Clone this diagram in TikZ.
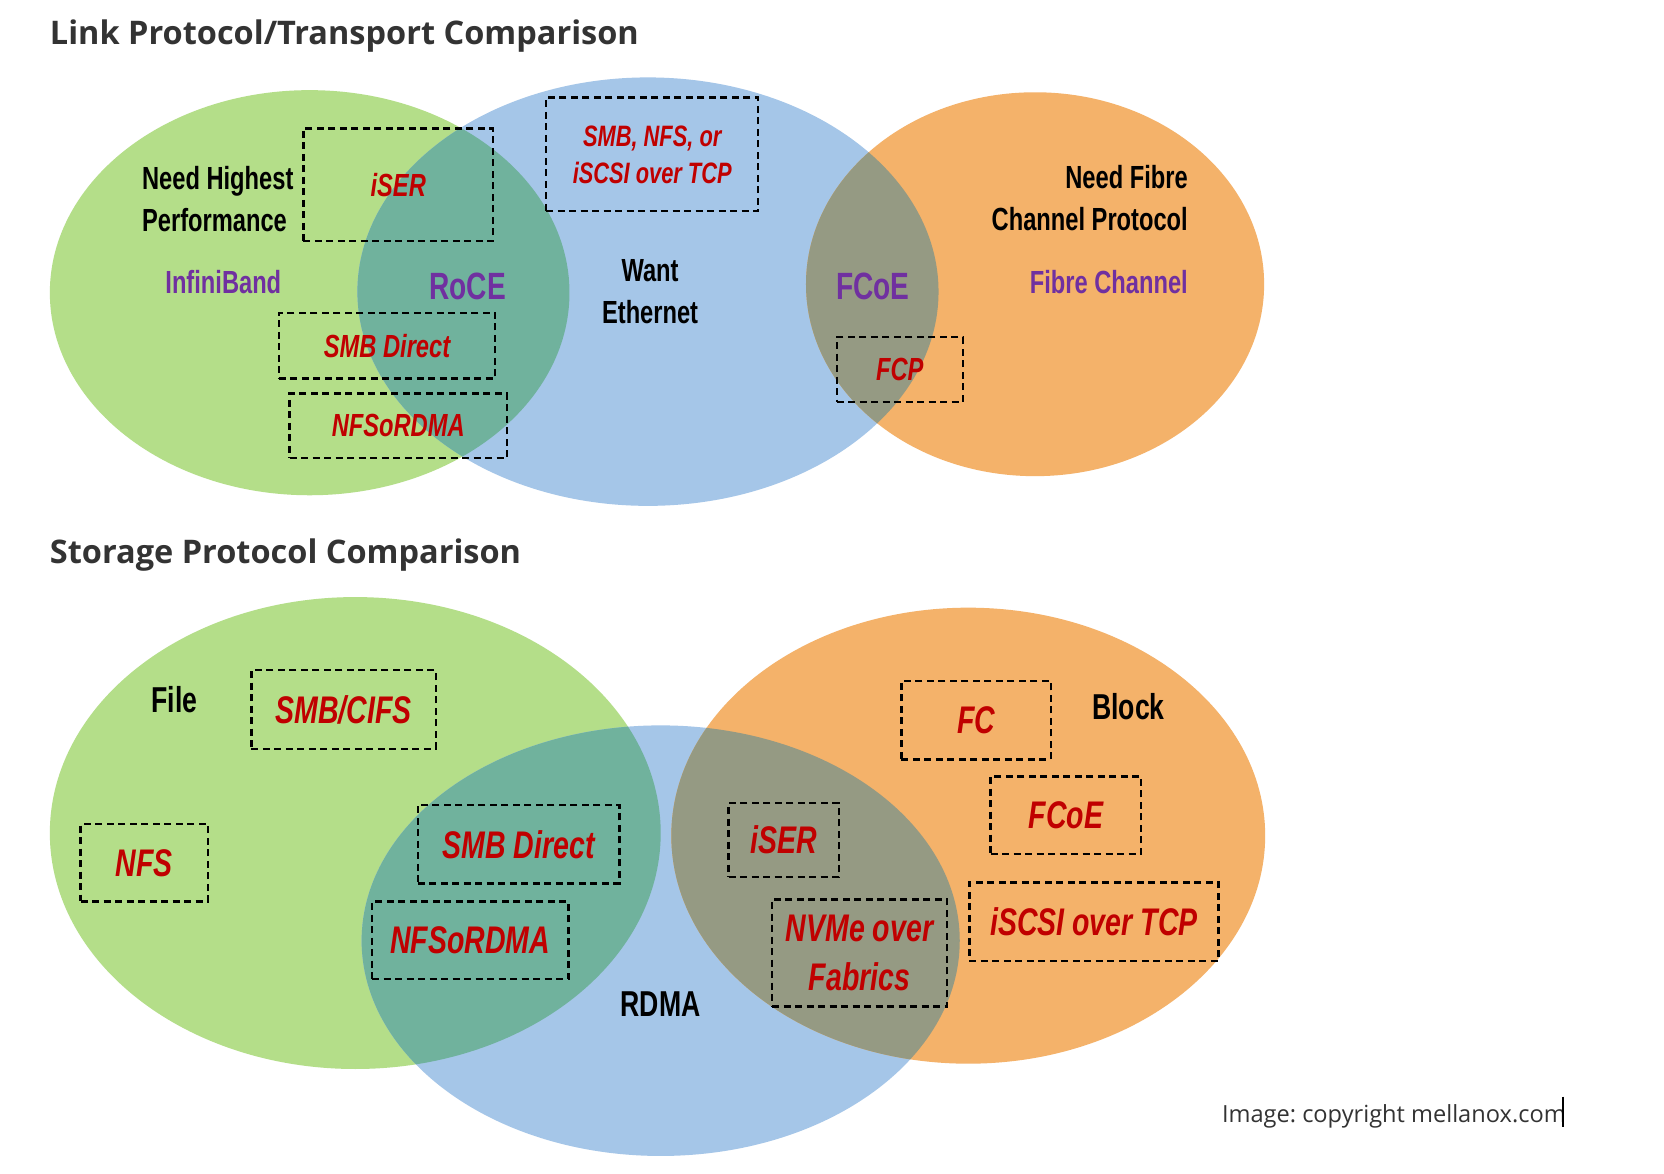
\documentclass[tikz,border=0pt]{standalone}
\usepackage{fontspec}
\frenchspacing
\newfontfamily\lblfont[FakeStretch=0.74]{Liberation Sans}
\newfontfamily\ttlfont{Open Sans}
\definecolor{vgreen}{RGB}{180,222,137}
\definecolor{vblue}{RGB}{165,198,232}
\definecolor{vorange}{RGB}{244,178,106}
\definecolor{vteal}{RGB}{112,178,157}
\definecolor{vgray}{RGB}{149,154,131}
\definecolor{vred}{RGB}{192,0,0}
\definecolor{vpurple}{RGB}{112,48,160}
\definecolor{vtitle}{RGB}{51,51,51}
\begin{document}
\begin{tikzpicture}[x=1.0605pt,y=-1.0605pt,
  every node/.style={inner sep=0pt,outer sep=0pt,text depth=0pt},
  boxbase/.style={draw=black,line width=2.4pt,dash pattern=on 7pt off 4.5pt,align=center,text=vred},
  topred/.style={boxbase,font=\lblfont\bfseries\itshape\fontsize{32}{37}\selectfont},
  botred/.style={boxbase,font=\lblfont\bfseries\itshape\fontsize{38.5}{49}\selectfont},
  blk/.style={text=black,font=\lblfont\bfseries\fontsize{32}{42}\selectfont},
  blkbig/.style={text=black,font=\lblfont\bfseries\fontsize{36}{42}\selectfont},
  pur/.style={text=vpurple,font=\lblfont\bfseries\fontsize{32}{42}\selectfont},
  purbig/.style={text=vpurple,font=\lblfont\bfseries\fontsize{38}{42}\selectfont},
  ttl/.style={text=vtitle,anchor=base west,font=\ttlfont\bfseries\fontsize{32.5}{36}\selectfont}
]
\useasboundingbox (0,0) rectangle (1569.07,1107);
\fill[white] (0,0) rectangle (1569.07,1107);

% ---------- top diagram ----------
\fill[vgreen] (292,276) ellipse [x radius=245,y radius=191];
\fill[vblue] (611,275) ellipse [x radius=274,y radius=202];
\fill[vorange] (976,268) ellipse [x radius=216,y radius=181];
\begin{scope}
  \clip (292,276) ellipse [x radius=245,y radius=191];
  \fill[vteal] (611,275) ellipse [x radius=274,y radius=202];
\end{scope}
\begin{scope}
  \clip (976,268) ellipse [x radius=216,y radius=181];
  \fill[vgray] (611,275) ellipse [x radius=274,y radius=202];
\end{scope}

\node[ttl] (t1) at (47.1,41.5) {Link Protocol/Transport Comparison};

\node[topred,minimum width=189.8pt,minimum height=112.4pt] (iser1) at (375.5,174) {iSER};
\node[topred,font=\lblfont\bfseries\itshape\fontsize{29.5}{37}\selectfont,minimum width=212.1pt,minimum height=113.5pt] (tcp1) at (615,145.5) {SMB, NFS, or\\iSCSI over TCP};
\node[topred,minimum width=216.3pt,minimum height=65.8pt] (smbd1) at (365,326) {SMB Direct};
\node[topred,minimum width=217.4pt,minimum height=64.7pt] (nfsr1) at (375.5,401.5) {NFSoRDMA};
\node[topred,minimum width=126.2pt,minimum height=64.7pt] (fcp1) at (848.5,348.5) {FCP};

\node[blk,anchor=west,align=left] (perf) at (134,188) {Need Highest\\Performance};
\node[pur,anchor=west] (ib) at (156,266) {InfiniBand};
\node[purbig] (roce) at (441,270) {RoCE};
\node[blk,align=center] (eth) at (613,275) {Want\\Ethernet};
\node[purbig] (fcoe1) at (823,270) {FCoE};
\node[blk,anchor=east,align=right] (nfc) at (1120,187) {Need Fibre\\Channel Protocol};
\node[pur,anchor=east] (fc1) at (1120,266) {Fibre Channel};

% ---------- bottom diagram ----------
\fill[vgreen] (335,785.5) ellipse [x radius=288,y radius=222.5];
\fill[vblue] (623,887) ellipse [x radius=282,y radius=203];
\fill[vorange] (913,788) ellipse [x radius=280,y radius=215];
\begin{scope}
  \clip (335,785.5) ellipse [x radius=288,y radius=222.5];
  \fill[vteal] (623,887) ellipse [x radius=282,y radius=203];
\end{scope}
\begin{scope}
  \clip (913,788) ellipse [x radius=280,y radius=215];
  \fill[vgray] (623,887) ellipse [x radius=282,y radius=203];
\end{scope}

\node[ttl] (t2) at (47.1,531) {Storage Protocol Comparison};

\node[botred,minimum width=184.5pt,minimum height=78.5pt] (smbcifs) at (324,669) {SMB/CIFS};
\node[botred,minimum width=127.3pt,minimum height=77.4pt] (nfs) at (136,813.5) {NFS};
\node[botred,minimum width=201.5pt,minimum height=78.5pt] (smbd2) at (489,796) {SMB Direct};
\node[botred,minimum width=196.2pt,minimum height=77.4pt] (nfsr2) at (443.5,886.5) {NFSoRDMA};
\node[botred,minimum width=110.3pt,minimum height=74.2pt] (iser2) at (739,792) {iSER};
\node[botred,minimum width=175pt,minimum height=107.1pt] (nvme) at (810.5,898.5) {NVMe over\\Fabrics};
\node[botred,minimum width=149.5pt,minimum height=78.5pt] (fc2) at (920.5,679) {FC};
\node[botred,minimum width=150.6pt,minimum height=77.4pt] (fcoe2) at (1005,768.5) {FCoE};
\node[botred,minimum width=249.2pt,minimum height=78.5pt] (iscsi2) at (1031.5,869) {iSCSI over TCP};

\node[blkbig] (file) at (164.5,660) {File};
\node[blkbig] (block) at (1064,666) {Block};
\node[blkbig] (rdma) at (623,946.7) {RDMA};

\node[anchor=base west,text=vtitle,font=\ttlfont\fontsize{23.6}{28}\selectfont] (copy) at (1152.3,1058) {Image: copyright mellanox.com};
\draw[line width=1.6pt,black] (1474,1034) -- (1474,1063);
\end{tikzpicture}
\end{document}
